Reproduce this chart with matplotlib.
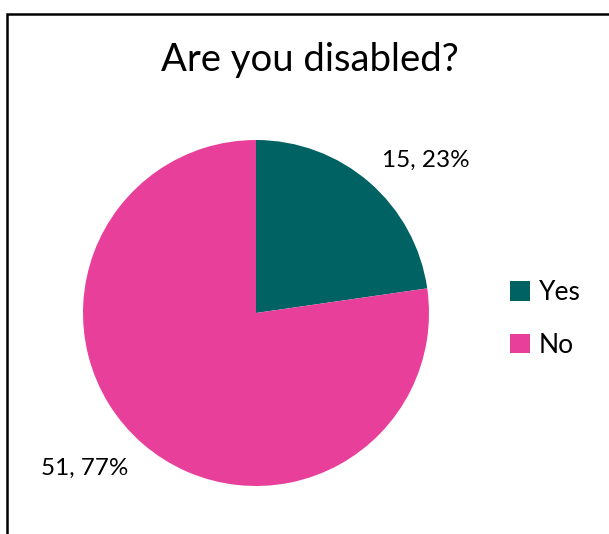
import matplotlib.pyplot as plt
from matplotlib.patches import Rectangle, Patch

plt.rcParams['font.family'] = ['Lato', 'DejaVu Sans']

answers = ["Yes", "No"]
counts = [15, 51]
colours = ["#006262", "#E8409A"]
title = "Are you disabled?"

total = sum(counts)
labels = [f"{c}, {round(100 * c / total)}%" for c in counts]

W, H = 609, 534
fig = plt.figure(figsize=(W / 100, H / 100), dpi=100)

# chart border, runs off the right and bottom edges
fig.patches.append(Rectangle((7 / W, -0.1), 1.2, 1.1 - 14 / H,
                             transform=fig.transFigure, fill=False,
                             edgecolor="black", linewidth=1.8))

fig.text(310 / W, 1 - 60 / H, title, ha="center", va="center", fontsize=27.5)

r = 173
cx, cy = 256, H - 313
ax = fig.add_axes([(cx - r) / W, (cy - r) / H, 2 * r / W, 2 * r / H])
wedges, _ = ax.pie(counts, colors=colours, startangle=90, counterclock=False,
                   radius=1, wedgeprops=dict(linewidth=0))
ax.set_xlim(-1, 1)
ax.set_ylim(-1, 1)
ax.axis("off")

# data labels
ax.text(0.98, 0.885, labels[0], ha="center", va="center", fontsize=17.5)
ax.text(-0.99, -0.9, labels[1], ha="center", va="center", fontsize=17.5)

handles = [Patch(facecolor=c, edgecolor="none") for c in colours]
fig.legend(handles, answers, loc="center left", bbox_to_anchor=(486 / W, 1 - 319 / H),
           frameon=False, fontsize=19, handlelength=0.75, handleheight=0.75,
           handletextpad=0.35, labelspacing=1.05)

fig.savefig("out.png", dpi=100)
